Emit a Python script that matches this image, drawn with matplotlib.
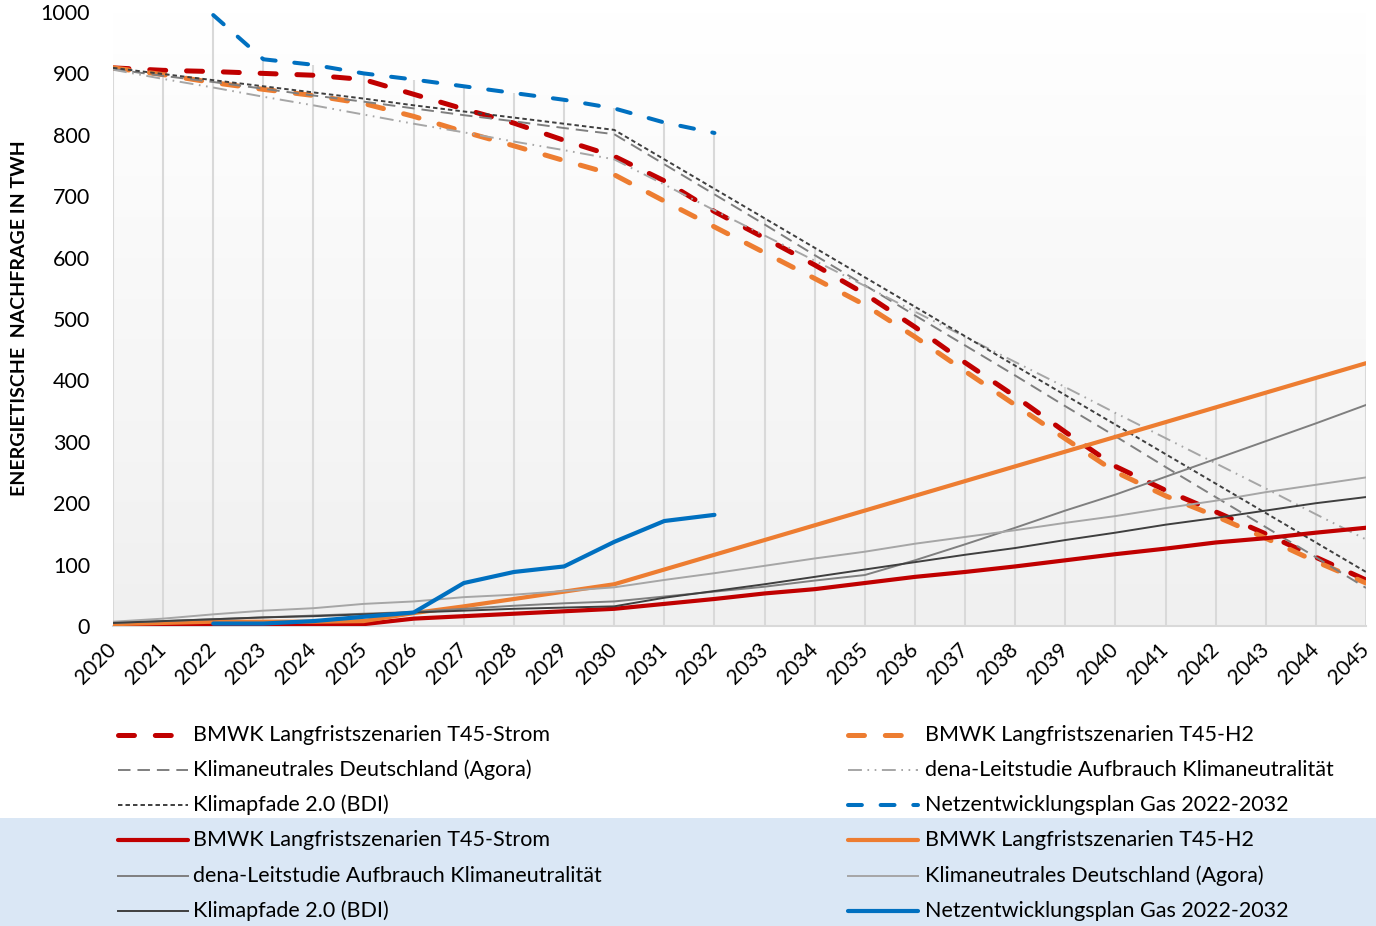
import numpy as np
import matplotlib
matplotlib.use("Agg")
import matplotlib.pyplot as plt
from matplotlib.lines import Line2D
from matplotlib.patches import Rectangle
from matplotlib.colors import LinearSegmentedColormap

plt.rcParams["font.family"] = ["Lato", "DejaVu Sans"]
plt.rcParams["lines.scale_dashes"] = False

years = list(range(2020, 2046))

# Erdgas-/Methanbedarf (gestrichelte Reihen)
gas_t45_strom = [909, 905, 903, 900, 897, 890, 866, 842, 819, 791, 765, 725, 675, 632, 588,
                 541, 487, 429, 374, 316, 260, 221, 186, 150, 112, 75]
gas_t45_h2 = [909, 898, 885, 874, 864, 851, 830, 805, 782, 758, 735, 692, 650, 608, 566,
              523, 471, 415, 360, 305, 251, 212, 179, 143, 105, 70]
gas_agora = [907, 896, 886, 875, 864, 854, 843, 832, 822, 811, 801, 752, 703, 654, 604,
             555, 506, 457, 408, 358, 309, 259, 210, 161, 112, 62]
gas_dena = [906, 891, 877, 862, 848, 833, 818, 804, 789, 775, 760, 719, 677, 636, 595,
            554, 512, 471, 430, 389, 347, 306, 265, 224, 182, 141]
gas_bdi = [909, 899, 889, 879, 869, 859, 848, 838, 828, 818, 808, 760, 712, 664, 616,
           568, 520, 472, 424, 376, 328, 280, 232, 184, 136, 88]
gas_nep = [None, None, 995, 923, 914, 900, 890, 879, 868, 857, 843, 820, 803] + [None] * 13

# Wasserstoffbedarf (durchgezogene Reihen)
h2_t45_strom = [2, 2, 2, 2, 3, 3, 12, 16, 20, 24, 28, 36, 44, 53, 60,
                70, 80, 88, 97, 107, 117, 126, 136, 143, 152, 160]
h2_t45_h2 = [3, 5, 7, 7, 7, 8, 21, 32, 44, 56, 68, 92, 116, 140, 164,
             188, 212, 236, 260, 284, 308, 332, 356, 380, 404, 428]
h2_dena = [5, 8, 11, 14, 17, 20, 23, 28, 33, 37, 40, 48, 56, 64, 74,
           83, 107, 133, 160, 188, 214, 243, 272, 301, 330, 360]
h2_agora = [7, 12, 19, 25, 29, 36, 40, 47, 51, 57, 63, 75, 86, 98, 110,
            121, 134, 145, 156, 168, 179, 192, 204, 218, 230, 242]
h2_bdi = [5, 8, 11, 14, 16, 19, 22, 25, 28, 30, 32, 46, 57, 68, 80,
          92, 104, 116, 127, 140, 152, 165, 176, 188, 200, 210]
h2_nep = [None, None, 4, 4, 8, 15, 22, 70, 88, 97, 137, 171, 181] + [None] * 13

y_ticks = list(range(0, 1001, 100))
y_label = "ENERGIETISCHE  NACHFRAGE IN TWH"

RED, ORANGE, BLUE = "#c00000", "#ed7d31", "#0070c0"
G_MID, G_LIGHT, G_DARK = "#7f7f7f", "#a6a6a6", "#3f3f3f"

# (label, values, style)
series = [
    ("BMWK Langfristszenarien T45-Strom", gas_t45_strom,
     dict(color=RED, lw=3.6, ls=(0, (11.5, 15.0)), dash_capstyle="round")),
    ("BMWK Langfristszenarien T45-H2", gas_t45_h2,
     dict(color=ORANGE, lw=3.6, ls=(0, (11.5, 15.0)), dash_capstyle="round")),
    ("Klimaneutrales Deutschland (Agora)", gas_agora,
     dict(color=G_MID, lw=1.4, ls=(0, (9.0, 5.0)))),
    ("dena-Leitstudie Aufbrauch Klimaneutralität", gas_dena,
     dict(color=G_LIGHT, lw=1.4, ls=(0, (10.0, 4.0, 1.2, 4.0, 1.2, 4.0)))),
    ("Klimapfade 2.0 (BDI)", gas_bdi,
     dict(color=G_DARK, lw=1.4, ls=(0, (3.2, 2.2)))),
    ("Netzentwicklungsplan Gas 2022-2032", gas_nep,
     dict(color=BLUE, lw=2.9, ls=(0, (10.0, 13.5)), dash_capstyle="round")),
    ("BMWK Langfristszenarien T45-Strom", h2_t45_strom,
     dict(color=RED, lw=3.0, ls="-", solid_capstyle="round")),
    ("BMWK Langfristszenarien T45-H2", h2_t45_h2,
     dict(color=ORANGE, lw=3.0, ls="-", solid_capstyle="round")),
    ("dena-Leitstudie Aufbrauch Klimaneutralität", h2_dena,
     dict(color=G_MID, lw=1.4, ls="-")),
    ("Klimaneutrales Deutschland (Agora)", h2_agora,
     dict(color=G_LIGHT, lw=1.4, ls="-")),
    ("Klimapfade 2.0 (BDI)", h2_bdi,
     dict(color=G_DARK, lw=1.4, ls="-")),
    ("Netzentwicklungsplan Gas 2022-2032", h2_nep,
     dict(color=BLUE, lw=3.0, ls="-", solid_capstyle="round")),
]

W, H = 1376, 926
fig = plt.figure(figsize=(W / 100, H / 100), dpi=100)
fig.patch.set_facecolor("white")


def fx(px):
    return px / W


def fy(py):
    return 1 - py / H


# blue band behind the lower legend block
fig.patches.append(Rectangle((0, 0), 1, fy(818), transform=fig.transFigure,
                             facecolor="#dae7f5", edgecolor="none", zorder=0))

ax = fig.add_axes([fx(113), fy(626), fx(1366) - fx(113), fy(12) - fy(626)])
ax.set_xlim(2020, 2045)
ax.set_ylim(0, 1000)
ax.set_facecolor("none")

# vertical gradient of the plot area
grad = np.linspace(1, 0, 256).reshape(-1, 1)
cmap = LinearSegmentedColormap.from_list("bg", ["#f0f0f0", "#ffffff"])
ax.imshow(grad, extent=[0, 1, 0, 1], transform=ax.transAxes, aspect="auto",
          cmap=cmap, vmin=0, vmax=1, zorder=0)


def to_arr(v):
    return np.array([np.nan if x is None else x for x in v], dtype=float)


# drop lines from the highest value of each year
all_vals = np.vstack([to_arr(s[1]) for s in series])
tops = np.nanmax(all_vals, axis=0)
ax.vlines(years, 0, tops, color="#d9d9d9", lw=1.5, zorder=1)

for i, (label, vals, style) in enumerate(series):
    ax.plot(years, to_arr(vals), zorder=3 + i, **style)

for side in ("left", "right", "top"):
    ax.spines[side].set_visible(False)
ax.spines["bottom"].set_color("#d9d9d9")
ax.spines["bottom"].set_linewidth(1.5)
ax.spines["bottom"].set_zorder(2)

ax.set_yticks(y_ticks)
ax.set_yticklabels([str(t) for t in y_ticks], fontsize=15.5)
ax.set_xticks(years)
ax.set_xticklabels([str(y) for y in years], fontsize=15, rotation=45,
                   ha="right", va="center", rotation_mode="anchor")
ax.tick_params(axis="both", length=0)
ax.tick_params(axis="y", pad=16.5)
ax.tick_params(axis="x", pad=15)
for t in ax.get_yticklabels() + ax.get_xticklabels():
    t.set_color("#000000")

fig.text(fx(20), fy(318), y_label, rotation=90, ha="center", va="center",
         fontsize=14, fontweight="bold")

# two-column legend, drawn row by row
rows_y = [735, 770, 805, 840, 876, 911]
cols = [(118, 188, 193), (848, 918, 925)]
for k, (label, vals, style) in enumerate(series):
    r, c = divmod(k, 2)
    x0, x1, xt = cols[c]
    yy = fy(rows_y[r])
    fig.add_artist(Line2D([fx(x0), fx(x1)], [yy, yy], transform=fig.transFigure,
                          **style))
    fig.text(fx(xt), yy, label, ha="left", va="center", fontsize=15.5)

fig.savefig("out.png", dpi=100)
